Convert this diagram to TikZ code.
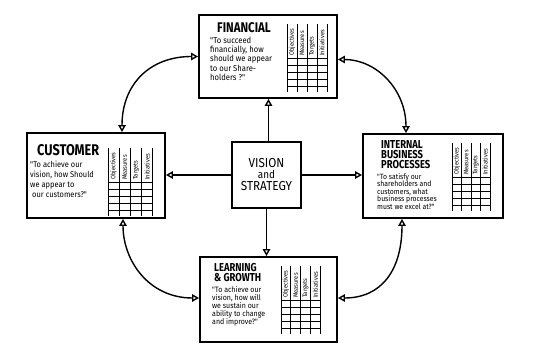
\documentclass[tikz,border=0pt]{standalone}
\usepackage{fontspec}
\setmainfont{Fira Sans}
\newfontfamily\handtitle[FakeStretch=0.82]{Fira Sans}
\newfontfamily\handtext[FakeStretch=0.9]{Fira Sans}
\usetikzlibrary{arrows.meta}

\tikzset{
  card/.style={draw, line width=1.9pt, inner sep=0pt, fill=white},
  openhead/.tip={Triangle[open, length=7pt, width=7.5pt]},
  flow/.style={line width=1.4pt, -openhead},
  link/.style={line width=1.4pt, openhead-openhead},
  gridline/.style={line width=0.7pt},
  colhead/.style={rotate=90, anchor=west, inner sep=0.5pt,
    font=\handtext\fontsize{6.4}{7}\selectfont},
  heading/.style={anchor=west, inner sep=0pt, align=left,
    font=\handtitle\bfseries\fontsize{13}{10.5}\selectfont},
  saying/.style={anchor=north west, inner sep=0pt, align=left},
  % scorecard table: four rotated column heads over a small grid; #1 = column width
  scorecard/.pic={
    \foreach \i in {0,...,4}
      \draw[gridline] ({\i*#1},0) -- ({\i*#1},68);
    \foreach \j in {0,...,4}
      \draw[gridline] (0,{34+\j*7}) -- ({4*#1},{34+\j*7});
    \foreach \t [count=\k] in {Objectives,Measures,Targets,Initiatives}
      \node[colhead] at ({(\k-0.5)*#1},32.5) {\t};
  }
}

\begin{document}
\begin{tikzpicture}[x=1pt,y=-1pt]
\useasboundingbox[fill=white] (0,0) rectangle (544,358);

% the five boxes
\node[card, minimum width=138pt, minimum height=83pt] (fin) at (268,56.5) {};
\node[card, minimum width=138pt, minimum height=85pt] (cus) at (96,175.5) {};
\node[card, minimum width=140pt, minimum height=84pt] (int) at (433,176) {};
\node[card, minimum width=137pt, minimum height=85pt] (lrn) at (268.5,299.5) {};
\node[card, minimum width=69pt, minimum height=66pt] (vis) at (266.5,175) {};

% centre box text
\node[align=center, inner sep=0pt, font=\handtext\fontsize{13}{12}\selectfont] (vis-text) at (vis)
  {VISION\\[-1pt]{\fontsize{11}{11}\selectfont and}\\STRATEGY};

% financial
\node[heading, font=\handtitle\bfseries\fontsize{14}{14}\selectfont] (fin-title) at (217,28) {FINANCIAL};
\node[saying, font=\handtext\fontsize{8.5}{9.2}\selectfont] (fin-text) at (210,37)
  {"To succeed\\financially, how\\should we appear\\to our Share-\\holders ?"};
\pic at (287,24) {scorecard=10};

% customer
\node[heading, font=\handtitle\bfseries\fontsize{15.5}{15}\selectfont] (cus-title) at (37,150) {CUSTOMER};
\node[saying, font=\handtext\fontsize{8.3}{10}\selectfont] (cus-text) at (30,161)
  {"To achieve our\\vision, how Should\\we appear to\\\hspace*{2pt}our customers?"};
\pic at (108,148) {scorecard=11.2};

% internal business processes
\node[heading, font=\handtitle\bfseries\fontsize{11.5}{10}\selectfont] (int-title) at (381,155)
  {INTERNAL\\BUSINESS\\PROCESSES};
\node[saying, font=\handtext\fontsize{7.6}{7.6}\selectfont] (int-text) at (377,173)
  {"To satisfy our\\shareholders and\\customers, what\\business processes\\must we excel at?"};
\pic at (452,143) {scorecard=9.5};

% learning and growth
\node[heading, font=\handtitle\bfseries\fontsize{11.5}{10.5}\selectfont] (lrn-title) at (214,272.5)
  {LEARNING\\\& GROWTH};
\node[saying, font=\handtext\fontsize{7.8}{8.1}\selectfont] (lrn-text) at (212,286)
  {"To achieve our\\vision, how will\\we sustain our\\ability to change\\and improve?"};
\pic at (281,266) {scorecard=9.8};

% straight arrows out of the centre
\draw[flow] ([xshift=2pt]vis.north) -- ([xshift=2pt]vis.north |- fin.south);
\draw[flow] (vis.south) -- (vis.south |- lrn.north);
\draw[flow] (vis.east) -- (vis.east -| int.west);
\draw[flow] (vis.west) -- (vis.west -| cus.east);

% curved two-way links around the ring
\draw[link] (fin.west) .. controls +(-48,0) and +(0,-48) .. ([xshift=26pt]cus.north);
\draw[link] ([yshift=-3pt]fin.east) .. controls +(38,0) and +(0,-44) .. ([xshift=-27pt]int.north);
\draw[link] ([xshift=27pt]cus.south) .. controls +(0,42) and +(-50,0) .. ([yshift=1.5pt]lrn.west);
\draw[link] ([xshift=-31pt]int.south) .. controls +(0,52) and +(43,0) .. ([yshift=1.5pt]lrn.east);
\end{tikzpicture}
\end{document}
